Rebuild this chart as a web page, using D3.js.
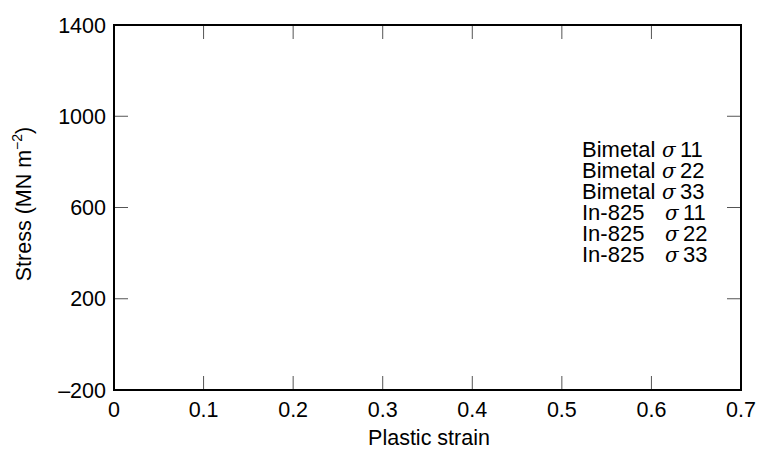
<!DOCTYPE html>
<html>
<head>
<meta charset="utf-8">
<script src="https://cdn.jsdelivr.net/npm/d3@7"></script>
<style>
  body { margin: 0; background: #fff; }
  svg { display: block; font-family: "Liberation Sans", Arial, sans-serif; }
</style>
</head>
<body>
<script>
// axis ticks
const xTicks = [0, 0.1, 0.2, 0.3, 0.4, 0.5, 0.6, 0.7];
const yTicks = [-200, 200, 600, 1000, 1400];

// legend entries (material, component)
const materials = ["Bimetal", "Bimetal", "Bimetal", "In-825", "In-825", "In-825"];
const components = ["11", "22", "33", "11", "22", "33"];

// series values: no curves are visible in the figure
const seriesStrain = [[], [], [], [], [], []];
const seriesStress = [[], [], [], [], [], []];

const width = 759, height = 450;
const margin = {top: 25, right: 18, bottom: 60, left: 114};
const fs = 21.5;

const svg = d3.select("body").append("svg")
    .attr("width", width)
    .attr("height", height);

const x = d3.scaleLinear().domain([0, 0.7]).range([margin.left, width - margin.right]);
const y = d3.scaleLinear().domain([-200, 1400]).range([height - margin.bottom, margin.top]);

const tickLen = 14;

// inner ticks on all four sides
const g = svg.append("g").attr("stroke", "#555").attr("stroke-width", 1);
xTicks.slice(1, -1).forEach(t => {
    g.append("line").attr("x1", x(t)).attr("x2", x(t)).attr("y1", y(-200)).attr("y2", y(-200) - tickLen);
    g.append("line").attr("x1", x(t)).attr("x2", x(t)).attr("y1", y(1400)).attr("y2", y(1400) + tickLen);
});
yTicks.slice(1, -1).forEach(t => {
    g.append("line").attr("x1", x(0)).attr("x2", x(0) + tickLen).attr("y1", y(t)).attr("y2", y(t));
    g.append("line").attr("x1", x(0.7)).attr("x2", x(0.7) - tickLen).attr("y1", y(t)).attr("y2", y(t));
});

// frame
svg.append("rect")
    .attr("x", x(0)).attr("y", y(1400))
    .attr("width", x(0.7) - x(0)).attr("height", y(-200) - y(1400))
    .attr("fill", "none").attr("stroke", "#000").attr("stroke-width", 2);

// series lines (empty)
const line = d3.line().x(d => x(d[0])).y(d => y(d[1]));
seriesStrain.forEach((xs, i) => {
    const pts = xs.map((v, j) => [v, seriesStress[i][j]]);
    if (pts.length) svg.append("path").attr("d", line(pts)).attr("fill", "none").attr("stroke", "#000");
});

// tick labels
svg.append("g").selectAll("text").data(xTicks).join("text")
    .attr("x", d => x(d)).attr("y", 417)
    .attr("text-anchor", "middle").attr("font-size", fs)
    .text(d => d === 0 ? "0" : d.toFixed(1));

svg.append("g").selectAll("text").data(yTicks).join("text")
    .attr("x", x(0) - 8).attr("y", d => y(d)).attr("dy", "0.35em")
    .attr("text-anchor", "end").attr("font-size", fs)
    .text(d => d < 0 ? "\u2013" + Math.abs(d) : d);

// axis titles
svg.append("text")
    .attr("x", 429).attr("y", 445)
    .attr("text-anchor", "middle").attr("font-size", fs)
    .text("Plastic strain");

const yt = svg.append("text")
    .attr("transform", `translate(31,204) rotate(-90)`)
    .attr("text-anchor", "middle").attr("font-size", fs);
yt.append("tspan").text("Stress (MN m");
yt.append("tspan").attr("font-size", 14).attr("dy", -9).text("\u22122");
yt.append("tspan").attr("dy", 9).text(")");

// legend, one text block
const leg = svg.append("text").attr("font-size", 22);
materials.forEach((m, i) => {
    const ly = 157 + i * 21;
    const shift = m === "In-825" ? 3 : 0;
    leg.append("tspan").attr("x", 582).attr("y", ly).text(m);
    leg.append("tspan").attr("x", 662 + shift).attr("y", ly)
        .attr("font-family", "'DejaVu Serif', serif").attr("font-style", "italic").attr("font-size", 20).text("\u03c3");
    leg.append("tspan").attr("x", 680 + shift).attr("y", ly).text(components[i]);
});
</script>
</body>
</html>
